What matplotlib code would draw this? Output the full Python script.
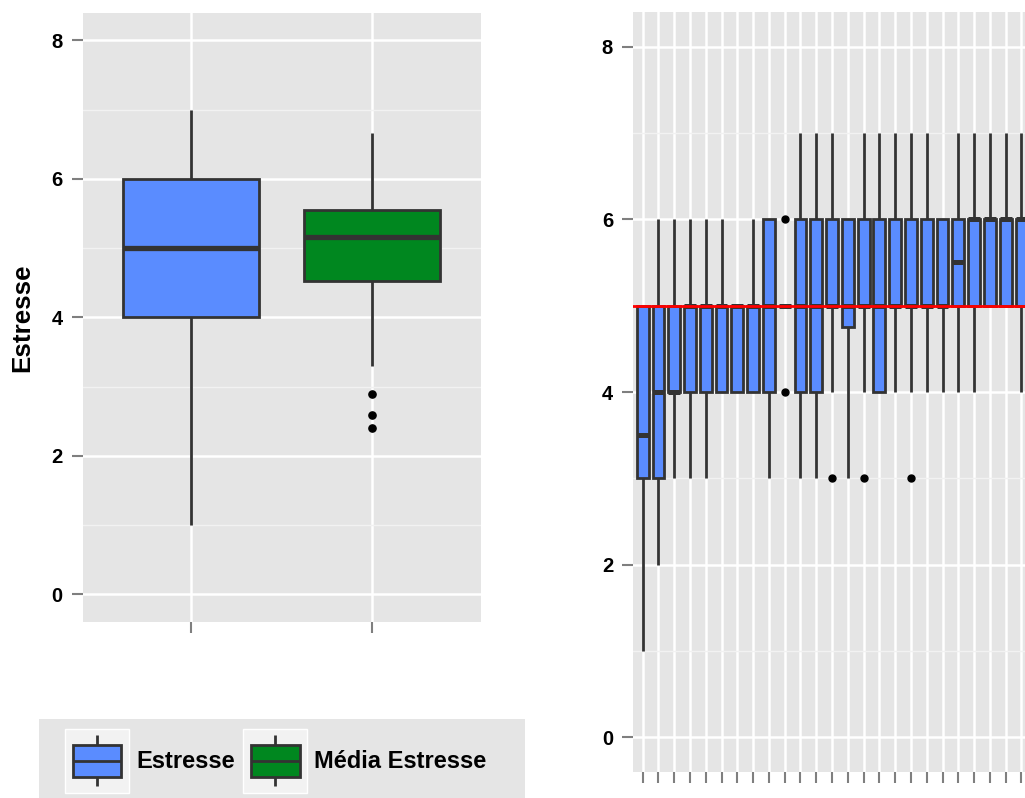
import matplotlib
matplotlib.use('Agg')
import matplotlib.pyplot as plt
from matplotlib.patches import Rectangle
from matplotlib.ticker import MultipleLocator

plt.rcParams['font.family'] = ['Liberation Sans', 'DejaVu Sans']
plt.rcParams['font.weight'] = 'bold'

W, H = 1025, 798

# ---------------- data ----------------
# left panel: Estresse vs Média Estresse
left_groups = ['Estresse', 'Média Estresse']
left_colors = ['#5A8CFF', '#00871F']
left_q1 = [4.0, 4.53]
left_med = [5.0, 5.155]
left_q3 = [6.0, 5.555]
left_whislo = [1.0, 3.30]
left_whishi = [7.0, 6.665]
left_fliers = [[], [2.89, 2.595, 2.40]]

# right panel: per-group boxplots (visible part)
right_q1 = [3, 3, 4, 4, 4, 4, 4, 4, 4, 5, 4, 4, 5, 4.75, 5, 4, 5, 5, 5, 5, 5, 5, 5, 5, 5]
right_med = [3.5, 4, 4, 5, 5, 5, 5, 5, 5, 5, 5, 5, 5, 5, 5, 5, 5, 5, 5, 5, 5.5, 6, 6, 6, 6]
right_q3 = [5, 5, 5, 5, 5, 5, 5, 5, 6, 5, 6, 6, 6, 6, 6, 6, 6, 6, 6, 6, 6, 6, 6, 6, 6]
right_whislo = [1, 2, 3, 3, 3, 4, 4, 4, 3, 5, 3, 3, 4, 3, 4, 4, 4, 4, 4, 4, 4, 4, 5, 5, 4]
right_whishi = [5, 6, 6, 6, 6, 6, 5, 6, 6, 5, 7, 7, 7, 6, 7, 7, 7, 7, 7, 6, 7, 7, 7, 7, 7]
right_fliers = [[], [], [], [], [], [], [], [], [], [4, 6], [], [], [3], [], [3],
                [], [], [3], [], [], [], [], [], [], []]
right_color = '#5A8CFF'
reference_line = 5.0

y_ticks = [0, 2, 4, 6, 8]
y_limits = (-0.4, 8.4)

EDGE = '#333333'


def draw_boxes(ax, q1, med, q3, lo, hi, fliers, colors, edge_lw, med_lw, wh_lw, msize):
    stats = [dict(q1=a, med=b, q3=c, whislo=d, whishi=e, fliers=f)
             for a, b, c, d, e, f in zip(q1, med, q3, lo, hi, fliers)]
    bp = ax.bxp(stats, positions=list(range(1, len(stats) + 1)), widths=0.75,
                showcaps=False, patch_artist=True, manage_ticks=False,
                boxprops=dict(edgecolor=EDGE, linewidth=edge_lw),
                medianprops=dict(color=EDGE, linewidth=med_lw, solid_capstyle='butt'),
                whiskerprops=dict(color=EDGE, linewidth=wh_lw, solid_capstyle='butt'),
                flierprops=dict(marker='o', markerfacecolor='black',
                                markeredgecolor='black', markersize=msize, linestyle='none'))
    for patch, col in zip(bp['boxes'], colors):
        patch.set_facecolor(col)
    return bp


def style_axes(ax, n):
    ax.set_facecolor('#E5E5E5')
    for s in ax.spines.values():
        s.set_visible(False)
    ax.set_ylim(*y_limits)
    ax.set_yticks(y_ticks)
    ax.set_yticklabels([str(t) for t in y_ticks])
    ax.yaxis.set_minor_locator(MultipleLocator(1))
    ax.set_xticks(list(range(1, n + 1)))
    ax.set_xticklabels([])
    ax.set_xlim(0.4, n + 0.6)
    ax.grid(which='major', color='white', linewidth=1.8)
    ax.grid(which='minor', axis='y', color='#F2F2F2', linewidth=1.0)
    ax.set_axisbelow(True)
    ax.tick_params(which='major', length=8, width=1.5, color='#7F7F7F',
                   labelsize=14.5, labelcolor='black', pad=6.5)
    ax.tick_params(which='minor', length=0)


fig = plt.figure(figsize=(W / 100, H / 100), dpi=100)

# left panel
axL = fig.add_axes([82.7 / W, (H - 622) / H, 398.3 / W, (622 - 12.7) / H])
style_axes(axL, len(left_groups))
draw_boxes(axL, left_q1, left_med, left_q3, left_whislo, left_whishi, left_fliers,
           left_colors, 2.0, 3.8, 2.0, 5.2)
axL.set_ylabel('Estresse', fontsize=18.7, fontweight='bold', va='center')
axL.yaxis.set_label_coords((22.7 - 82.7) / 398.3, 0.5)

# right panel (extends past the figure's right edge, as in the reference)
n_right = len(right_q1)
axR = fig.add_axes([633.2 / W, (H - 772) / H, 397.7 / W, (772 - 12) / H])
style_axes(axR, n_right)
draw_boxes(axR, right_q1, right_med, right_q3, right_whislo, right_whishi, right_fliers,
           [right_color] * n_right, 2.0, 3.6, 2.0, 5.0)
axR.axhline(reference_line, color='#FF0000', linewidth=2.0, zorder=5)

# legend
axLeg = fig.add_axes([39 / W, 0, 486 / W, 79 / H])
axLeg.set_facecolor('#E5E5E5')
for s in axLeg.spines.values():
    s.set_visible(False)
axLeg.set_xticks([])
axLeg.set_yticks([])
axLeg.set_xlim(0, 486)
axLeg.set_ylim(0, 79)
key_x = [26, 204.3]
text_x = [97, 275]
for kx, tx, col, lab in zip(key_x, text_x, left_colors, left_groups):
    axLeg.add_patch(Rectangle((kx, 5), 64, 64, facecolor='#F2F2F2', edgecolor='white', lw=1))
    cx = kx + 32
    axLeg.plot([cx, cx], [12, 21.3], color=EDGE, lw=2.0, solid_capstyle='butt')
    axLeg.plot([cx, cx], [53, 63], color=EDGE, lw=2.0, solid_capstyle='butt')
    axLeg.add_patch(Rectangle((kx + 7.6, 21.3), 48.8, 31.7, facecolor=col, edgecolor=EDGE, lw=2.0))
    axLeg.plot([kx + 7.6, kx + 56.4], [37.2, 37.2], color=EDGE, lw=2.0, solid_capstyle='butt')
    axLeg.text(tx, 37, lab, fontsize=17, fontweight='bold', va='center', ha='left', color='black')

fig.savefig('out.png', dpi=100)
